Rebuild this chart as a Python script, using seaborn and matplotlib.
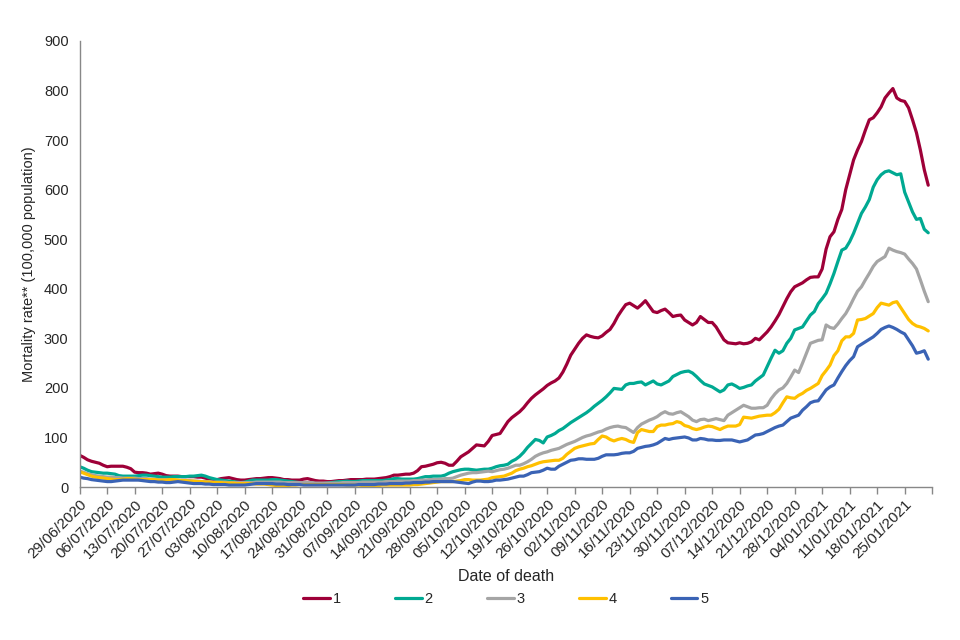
"""
plot.py - mortality rate by group, seven-day series
"""
import pandas as pd
import seaborn as sns
import matplotlib.pyplot as plt

# daily values, one list per group (29/06/2020 - 31/01/2021)
rate_1 = [
    64, 60, 55, 52, 50, 48, 44, 41, 42, 42, 42, 42, 40, 37,
    30, 29, 29, 28, 26, 27, 28, 26, 23, 22, 22, 22, 21, 21,
    21, 21, 20, 20, 18, 16, 14, 15, 17, 18, 19, 17, 15, 14,
    14, 15, 16, 17, 17, 18, 19, 19, 18, 17, 15, 15, 14, 14,
    14, 16, 17, 15, 13, 12, 12, 11, 11, 12, 13, 13, 14, 15,
    15, 15, 15, 16, 16, 16, 17, 18, 19, 21, 24, 24, 25, 26,
    26, 28, 33, 41, 42, 44, 46, 49, 50, 48, 44, 44, 52, 61,
    66, 71, 78, 85, 84, 83, 92, 104, 106, 108, 120, 132, 140, 146,
    152, 160, 170, 179, 186, 192, 198, 205, 210, 214, 220, 232, 248, 266,
    278, 290, 300, 307, 304, 302, 301, 305, 312, 318, 330, 345, 357, 368,
    371, 366, 361, 368, 376, 365, 354, 352, 356, 359, 352, 344, 346, 347,
    337, 332, 327, 332, 344, 338, 332, 332, 323, 310, 297, 291, 290, 289,
    291, 289, 290, 293, 300, 297, 305, 313, 323, 335, 348, 364, 380, 394,
    404, 408, 412, 418, 423, 424, 424, 440, 480, 505, 515, 540, 560, 600,
    630, 660, 680, 697, 720, 741, 745, 755, 767, 785, 795, 804, 785, 780,
    778, 765, 741, 715, 680, 640, 609,
]
rate_2 = [
    41, 38, 34, 31, 30, 29, 28, 28, 27, 26, 23, 22, 22, 22,
    22, 23, 24, 24, 23, 22, 21, 20, 20, 20, 21, 21, 21, 21,
    22, 22, 23, 24, 22, 19, 17, 15, 14, 13, 12, 11, 10, 9,
    10, 12, 14, 14, 14, 14, 14, 15, 15, 14, 13, 12, 11, 10,
    9, 9, 8, 8, 7, 7, 7, 8, 9, 10, 11, 11, 12, 11,
    11, 12, 13, 13, 13, 13, 13, 13, 14, 15, 17, 17, 16, 16,
    16, 16, 17, 19, 21, 21, 22, 22, 22, 24, 28, 31, 33, 35,
    36, 36, 35, 34, 35, 36, 36, 38, 41, 43, 44, 46, 52, 56,
    62, 70, 80, 88, 96, 94, 89, 101, 104, 108, 114, 118, 124, 130,
    135, 140, 145, 150, 156, 163, 169, 175, 182, 190, 199, 198, 197, 206,
    209, 209, 211, 212, 206, 210, 214, 208, 206, 210, 214, 223, 227, 231,
    233, 234, 230, 223, 215, 208, 205, 202, 197, 192, 196, 206, 208, 204,
    199, 201, 204, 206, 214, 220, 226, 243, 260, 276, 270, 275, 290, 300,
    317, 320, 323, 335, 347, 354, 370, 380, 391, 410, 431, 455, 478, 482,
    495, 512, 532, 552, 565, 580, 605, 620, 630, 636, 638, 634, 630, 632,
    595, 575, 555, 540, 542, 520, 513,
]
rate_3 = [
    32, 30, 27, 25, 23, 22, 21, 20, 20, 19, 19, 18, 18, 18,
    18, 17, 17, 17, 16, 16, 15, 15, 15, 14, 14, 14, 13, 13,
    13, 12, 12, 11, 11, 11, 10, 10, 10, 10, 9, 9, 9, 9,
    9, 9, 9, 10, 10, 10, 10, 10, 10, 10, 9, 9, 9, 9,
    9, 9, 9, 9, 8, 8, 8, 8, 8, 8, 8, 9, 9, 9,
    9, 9, 10, 10, 10, 10, 10, 10, 11, 11, 11, 12, 12, 12,
    12, 13, 13, 14, 14, 15, 15, 15, 16, 17, 17, 18, 21, 24,
    26, 28, 29, 29, 30, 31, 32, 31, 33, 35, 36, 38, 41, 44,
    44, 47, 51, 56, 62, 66, 69, 71, 74, 76, 78, 82, 86, 89,
    92, 96, 100, 103, 105, 108, 111, 113, 117, 120, 122, 123, 121, 120,
    115, 110, 120, 127, 131, 135, 138, 142, 148, 152, 148, 147, 150, 152,
    147, 142, 135, 132, 136, 137, 134, 136, 138, 136, 134, 145, 150, 155,
    160, 165, 162, 159, 159, 160, 160, 165, 178, 188, 196, 200, 209, 222,
    236, 231, 250, 270, 290, 293, 296, 297, 327, 322, 320, 329, 340, 350,
    364, 380, 395, 404, 418, 431, 445, 455, 460, 465, 482, 478, 475, 473,
    470, 460, 451, 440, 418, 395, 374,
]
rate_4 = [
    31, 28, 25, 22, 20, 19, 18, 17, 16, 15, 15, 16, 17, 17,
    16, 15, 15, 15, 15, 15, 14, 14, 14, 15, 15, 14, 13, 13,
    12, 12, 11, 11, 10, 10, 9, 9, 9, 8, 8, 8, 7, 7,
    7, 7, 7, 6, 6, 6, 5, 4, 3, 2, 2, 3, 4, 4,
    5, 5, 5, 5, 5, 5, 5, 5, 5, 5, 5, 5, 4, 4,
    4, 4, 3, 2, 1, 2, 3, 4, 4, 4, 4, 4, 4, 4,
    4, 5, 5, 6, 7, 8, 9, 10, 11, 11, 11, 11, 12, 13,
    15, 15, 14, 14, 14, 15, 16, 19, 20, 21, 22, 25, 28, 33,
    36, 38, 41, 43, 46, 49, 51, 52, 53, 54, 54, 58, 66, 72,
    78, 81, 83, 85, 87, 88, 96, 103, 101, 96, 93, 96, 98, 96,
    92, 90, 110, 116, 114, 112, 112, 122, 125, 125, 127, 128, 132, 130,
    124, 122, 118, 116, 118, 121, 123, 122, 119, 116, 120, 123, 123, 123,
    126, 141, 140, 139, 141, 143, 144, 145, 145, 150, 157, 170, 182, 180,
    179, 185, 189, 195, 199, 204, 209, 225, 235, 246, 265, 275, 295, 303,
    303, 310, 337, 338, 340, 345, 350, 362, 371, 369, 367, 372, 374, 362,
    350, 338, 330, 325, 323, 320, 315,
]
rate_5 = [
    20, 18, 17, 15, 14, 13, 12, 11, 11, 12, 13, 14, 14, 14,
    14, 14, 13, 12, 11, 11, 10, 10, 9, 9, 10, 11, 10, 9,
    8, 7, 7, 7, 6, 6, 5, 5, 5, 5, 4, 4, 4, 4,
    4, 5, 6, 7, 7, 7, 7, 7, 6, 6, 6, 5, 5, 5,
    5, 4, 4, 4, 4, 4, 4, 4, 4, 4, 4, 4, 4, 4,
    4, 5, 5, 5, 5, 5, 6, 6, 6, 7, 7, 7, 7, 8,
    8, 9, 9, 9, 10, 10, 11, 11, 11, 11, 11, 11, 10, 9,
    8, 7, 10, 12, 12, 11, 11, 12, 14, 14, 15, 16, 18, 20,
    22, 22, 25, 29, 30, 31, 34, 38, 36, 36, 42, 46, 50, 54,
    55, 57, 57, 56, 56, 56, 58, 62, 65, 65, 65, 66, 68, 69,
    69, 72, 78, 80, 82, 83, 85, 88, 93, 98, 96, 98, 99, 100,
    101, 99, 95, 95, 98, 97, 95, 95, 94, 94, 95, 95, 95, 93,
    91, 93, 95, 100, 105, 106, 108, 112, 116, 120, 123, 125, 132, 139,
    142, 145, 155, 162, 170, 173, 174, 185, 196, 202, 206, 220, 233, 245,
    255, 263, 283, 288, 293, 298, 303, 310, 318, 322, 325, 322, 318, 313,
    309, 297, 285, 270, 272, 275, 258,
]

groups = ["1", "2", "3", "4", "5"]
colours = ["#9E0038", "#00A992", "#A5A5A5", "#FFC000", "#3A63B5"]
start_date = "2020-06-29"
last_tick = "2021-02-01"

dates = pd.date_range(start_date, periods=len(rate_1), freq="D")
series = [rate_1, rate_2, rate_3, rate_4, rate_5]
df = pd.concat(
    [pd.DataFrame({"date": dates, "rate": vals, "group": g}) for g, vals in zip(groups, series)],
    ignore_index=True,
)

sns.set_style("white")
plt.rcParams["font.family"] = ["Liberation Sans", "DejaVu Sans"]

fig = plt.figure(figsize=(9.6, 6.4), dpi=100)
ax = fig.add_axes([0.083, 0.239, 0.888, 0.697])
sns.lineplot(data=df, x="date", y="rate", hue="group", hue_order=groups,
             palette=dict(zip(groups, colours)), linewidth=2.3, ax=ax)

ax.set_ylim(0, 900)
ax.set_yticks(range(0, 901, 100))
ax.set_xlim(pd.Timestamp(start_date), pd.Timestamp(last_tick))

ticks = pd.date_range(start_date, last_tick, freq="7D")
ax.set_xticks(ticks)
labels = [d.strftime("%d/%m/%Y") for d in ticks]
labels[-1] = ""
ax.set_xticklabels(labels, rotation=45, ha="right", rotation_mode="anchor", fontsize=11)
ax.tick_params(axis="x", direction="out", length=5, color="#888888", width=1, pad=2, bottom=True)
ax.tick_params(axis="y", length=0, labelsize=10.5, pad=8)

for side in ["top", "right"]:
    ax.spines[side].set_visible(False)
for side in ["left", "bottom"]:
    ax.spines[side].set_color("#888888")
    ax.spines[side].set_linewidth(1)

ax.set_xlabel("Date of death", fontsize=11.5, labelpad=6)
ax.set_ylabel("Mortality rate** (100,000 population)", fontsize=10.5, labelpad=6)

ax.legend(loc="center", bbox_to_anchor=(0.5, -0.252), ncol=5, frameon=False,
          fontsize=10.5, handlelength=1.8, handletextpad=0.2, columnspacing=3.75)

plt.savefig("out.png", dpi=100)
print("Saved to out.png")
